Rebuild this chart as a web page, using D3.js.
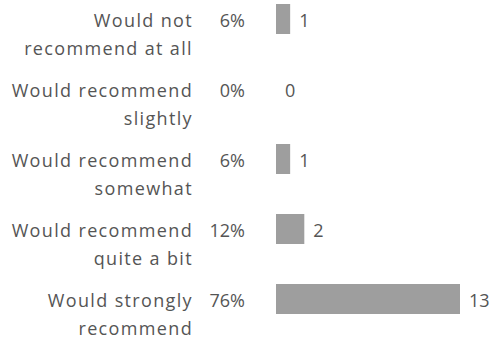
<!DOCTYPE html>
<html>
<head>
<meta charset="utf-8">
<script src="https://cdn.jsdelivr.net/npm/d3@7/dist/d3.min.js"></script>
<style>
  html, body { margin: 0; padding: 0; background: #fff; }
  svg { display: block; }
  text { font-family: "Open Sans", sans-serif; fill: #555; font-size: 18px; }
  text.cat { letter-spacing: 1.35px; }
</style>
</head>
<body>
<div id="chart"></div>
<script>
const labelLine1 = ["Would not", "Would recommend", "Would recommend", "Would recommend", "Would strongly"];
const labelLine2 = ["recommend at all", "slightly", "somewhat", "quite a bit", "recommend"];
const percents = ["6%", "0%", "6%", "12%", "76%"];
const counts = [1, 0, 1, 2, 13];

const width = 490, height = 341;
const svg = d3.select("#chart").append("svg")
  .attr("width", width).attr("height", height);

const idx = d3.range(counts.length);
const y = d3.scaleBand().domain(idx).range([-36, 354]).paddingInner(4/7).paddingOuter(4/7);
const x = d3.scaleLinear().domain([0, 13]).range([276, 460]);

const rows = svg.selectAll("g.row").data(idx).join("g").attr("class", "row");

rows.append("rect")
  .attr("x", x(0))
  .attr("y", i => y(i))
  .attr("width", i => x(counts[i]) - x(0))
  .attr("height", y.bandwidth())
  .attr("fill", "#9e9e9e");

const lbl = rows.append("text")
  .attr("class", "cat")
  .attr("text-anchor", "end")
  .attr("y", i => y(i) + y.bandwidth() / 2 + 8);
lbl.append("tspan").attr("x", 193).text(i => labelLine1[i]);
lbl.append("tspan").attr("x", 193).attr("dy", 28).text(i => labelLine2[i]);

rows.append("text")
  .attr("text-anchor", "end")
  .attr("x", 245)
  .attr("y", i => y(i) + y.bandwidth() / 2 + 8)
  .text(i => percents[i]);

rows.append("text")
  .attr("x", i => x(counts[i]) + 9)
  .attr("y", i => y(i) + y.bandwidth() / 2 + 8)
  .text(i => counts[i]);
</script>
</body>
</html>
